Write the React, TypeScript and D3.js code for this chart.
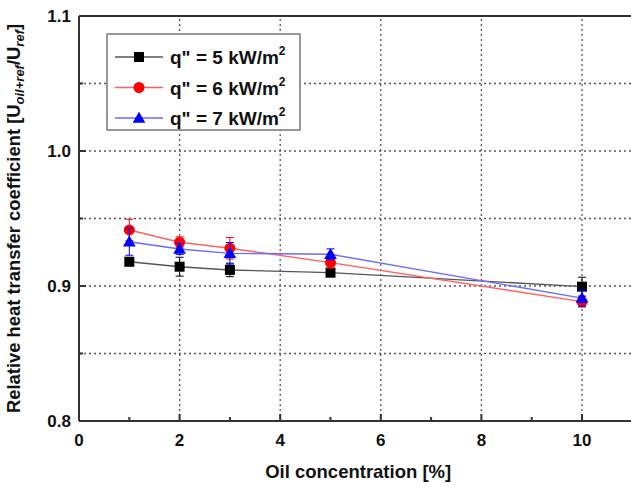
import React from "react";
import * as d3 from "d3";

const width = 631;
const height = 487;

// oil concentration [%]
const concentrations = [1, 2, 3, 5, 10];

const seriesNames = ["5", "6", "7"];
const seriesColors = ["#000000", "#ff0000", "#0000ff"];
const lineColors = ["#555555", "#ff6060", "#6a6aff"];

const valuesQ5 = [0.918, 0.9143, 0.9119, 0.9099, 0.8995];
const valuesQ6 = [0.9415, 0.9324, 0.928, 0.9173, 0.8884];
const valuesQ7 = [0.9328, 0.9274, 0.9242, 0.9235, 0.891];

const errQ5 = [0.003, 0.007, 0.005, 0.003, 0.007];
const errQ6 = [0.008, 0.004, 0.008, 0.004, 0.004];
const errQ7 = [0.01, 0.004, 0.008, 0.004, 0.006];

const xTicks = [0, 2, 4, 6, 8, 10];
const xMinor = [1, 3, 5, 7, 9, 11];
const yTicks = [0.8, 0.9, 1.0, 1.1];
const yMinor = [0.85, 0.95, 1.05];

const margin = { left: 79, top: 16, bottom: 421 };

const x = d3.scaleLinear().domain([0, 12]).range([margin.left, margin.left + 12 * 50.3]);
const y = d3.scaleLinear().domain([0.8, 1.1]).range([margin.bottom, margin.top]);

const line = d3
  .line<[number, number]>()
  .x((d) => x(d[0]))
  .y((d) => y(d[1]));

const font = "'Liberation Sans', Arial, Helvetica, sans-serif";

function Marker({ kind, cx, cy, color }: { kind: number; cx: number; cy: number; color: string }) {
  if (kind === 0) return <rect x={cx - 5} y={cy - 5} width={10} height={10} fill={color} />;
  if (kind === 1) return <circle cx={cx} cy={cy} r={5.5} fill={color} />;
  const sym = d3.symbol().type(d3.symbolTriangle).size(70)();
  return <path d={sym || ""} transform={`translate(${cx},${cy + 1})`} fill={color} />;
}

export default function App() {
  const allValues = [valuesQ5, valuesQ6, valuesQ7];
  const allErr = [errQ5, errQ6, errQ7];
  const grid = "#555";

  return (
    <svg
      width={width}
      height={height}
      style={{ position: "absolute", left: 0, top: 0, background: "#fff" }}
      fontFamily={font}
    >
      {/* grid */}
      <g stroke={grid} strokeWidth={1.3} strokeDasharray="2,3">
        {[...yMinor, 0.9, 1.0].map((v) => (
          <line key={"gy" + v} x1={x(0)} x2={width} y1={y(v)} y2={y(v)} />
        ))}
        {xTicks.slice(1).map((v) => (
          <line key={"gx" + v} x1={x(v)} x2={x(v)} y1={y(0.8)} y2={y(1.1)} />
        ))}
      </g>

      {/* series */}
      {allValues.map((vals, si) => {
        const pts = concentrations.map((c, i) => [c, vals[i]] as [number, number]);
        return (
          <g key={"s" + si}>
            <path d={line(pts) || ""} fill="none" stroke={lineColors[si]} strokeWidth={1.4} />
            {pts.map((p, i) => (
              <g key={i} stroke={seriesColors[si]} strokeWidth={1}>
                <line x1={x(p[0])} x2={x(p[0])} y1={y(p[1] - allErr[si][i])} y2={y(p[1] + allErr[si][i])} />
                <line x1={x(p[0]) - 4} x2={x(p[0]) + 4} y1={y(p[1] - allErr[si][i])} y2={y(p[1] - allErr[si][i])} />
                <line x1={x(p[0]) - 4} x2={x(p[0]) + 4} y1={y(p[1] + allErr[si][i])} y2={y(p[1] + allErr[si][i])} />
              </g>
            ))}
            {pts.map((p, i) => (
              <Marker key={"m" + i} kind={si} cx={x(p[0])} cy={y(p[1])} color={seriesColors[si]} />
            ))}
          </g>
        );
      })}

      {/* frame */}
      <g stroke="#333" strokeWidth={2} fill="none">
        <line x1={x(0)} x2={x(0)} y1={y(0.8)} y2={y(1.1)} />
        <line x1={x(0)} x2={width} y1={y(0.8)} y2={y(0.8)} />
        <line x1={x(0)} x2={width} y1={y(1.1)} y2={y(1.1)} />
        {xTicks.map((v) => (
          <line key={"tx" + v} x1={x(v)} x2={x(v)} y1={y(0.8)} y2={y(0.8) - 7} />
        ))}
        {xMinor.map((v) => (
          <line key={"mx" + v} x1={x(v)} x2={x(v)} y1={y(0.8)} y2={y(0.8) - 4} />
        ))}
        {yTicks.map((v) => (
          <line key={"ty" + v} x1={x(0)} x2={x(0) + 7} y1={y(v)} y2={y(v)} />
        ))}
        {yMinor.map((v) => (
          <line key={"my" + v} x1={x(0)} x2={x(0) + 4} y1={y(v)} y2={y(v)} />
        ))}
      </g>

      {/* tick labels */}
      <g fontSize={17} fontWeight="bold" fill="#111">
        {xTicks.map((v) => (
          <text key={"lx" + v} x={x(v)} y={y(0.8) + 25} textAnchor="middle">
            {v}
          </text>
        ))}
        {yTicks.map((v) => (
          <text key={"ly" + v} x={x(0) - 8} y={y(v) + 6} textAnchor="end">
            {d3.format(".1f")(v)}
          </text>
        ))}
      </g>

      {/* axis titles */}
      <text x={(x(0) + x(11.1)) / 2} y={478} textAnchor="middle" fontSize={18.5} fontWeight="bold" fill="#111">
        Oil concentration [%]
      </text>
      <text
        transform={`translate(20,${(y(0.8) + y(1.1)) / 2}) rotate(-90)`}
        textAnchor="middle"
        fontSize={18.4}
        fontWeight="bold"
        fill="#111"
      >
        Relative heat transfer coefficient [U
        <tspan fontSize={13} fontStyle="italic" dy={4}>oil+ref</tspan>
        <tspan dy={-4}>/U</tspan>
        <tspan fontSize={13} fontStyle="italic" dy={4}>ref</tspan>
        <tspan dy={-4}>]</tspan>
      </text>

      {/* legend */}
      <g>
        <rect x={107} y={34} width={193} height={96} fill="#fff" stroke="#777" strokeWidth={1.5} />
        {seriesNames.map((n, i) => {
          const ly = 57 + i * 30.5;
          return (
            <g key={"lg" + i}>
              <line x1={115} x2={163} y1={ly} y2={ly} stroke={lineColors[i]} strokeWidth={1.4} />
              <Marker kind={i} cx={139} cy={ly} color={seriesColors[i]} />
              <text x={170} y={ly + 7} fontSize={19} fontWeight="bold" fill="#111">
                q" = {n} kW/m
                <tspan fontSize={12} dy={-9}>2</tspan>
              </text>
            </g>
          );
        })}
      </g>
    </svg>
  );
}
